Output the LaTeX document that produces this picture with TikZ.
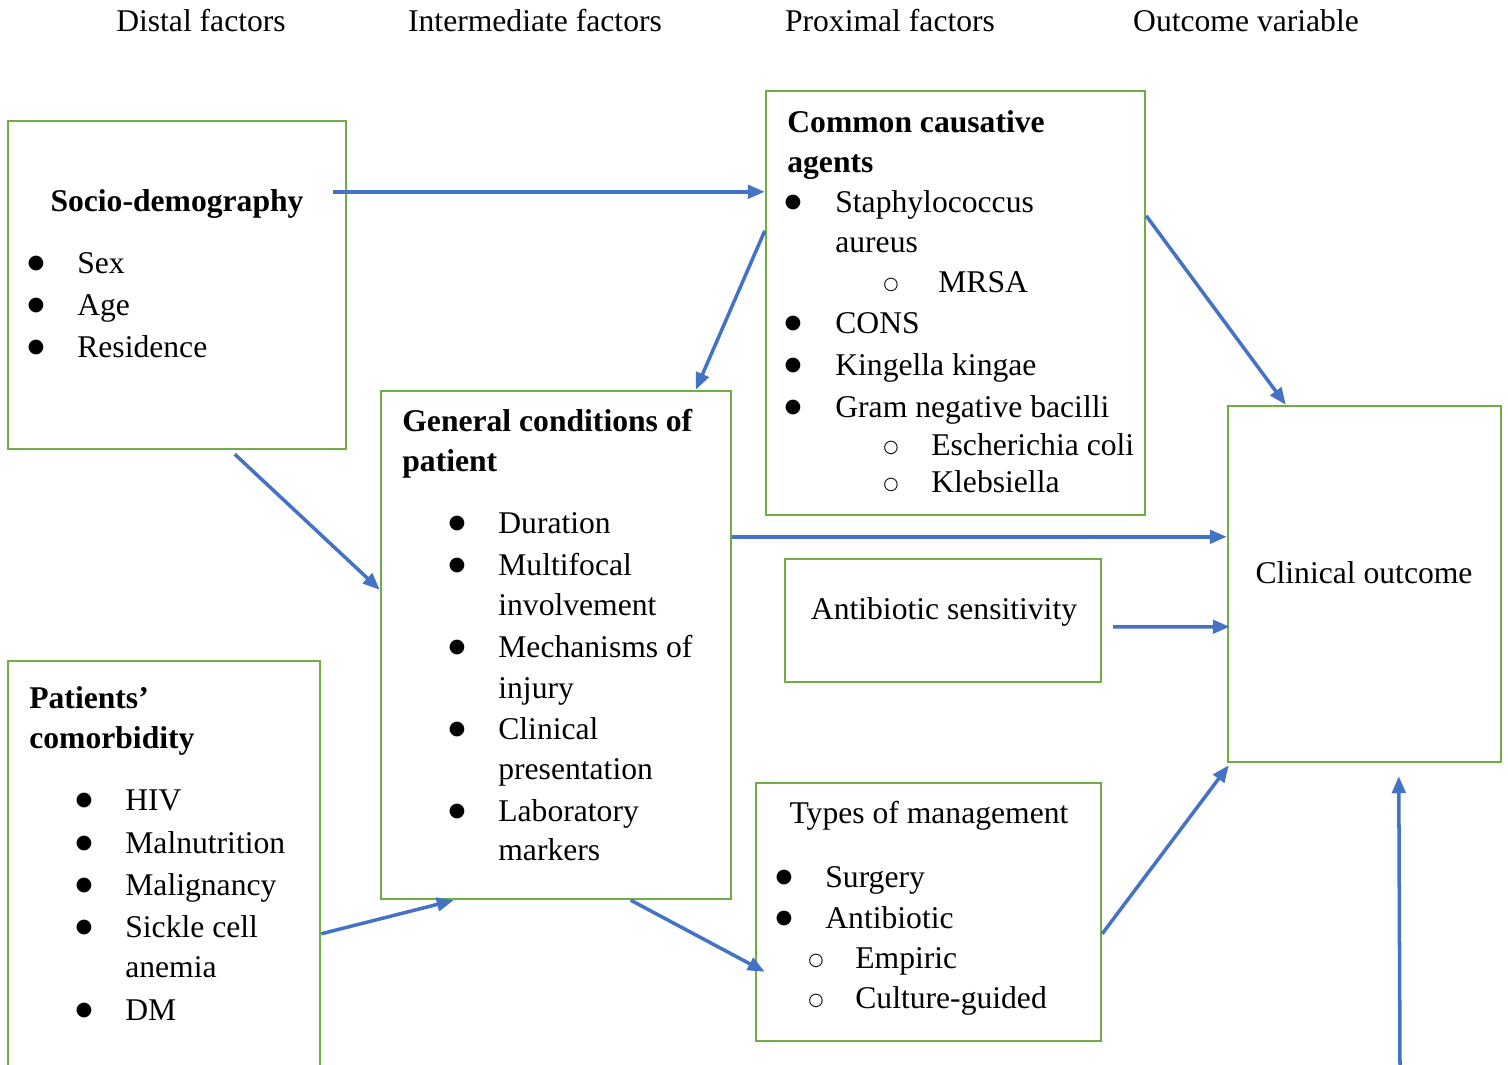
\documentclass[tikz,border=0pt]{standalone}
\usepackage{fontspec}
\setmainfont{Liberation Serif}
\newfontfamily\symfont{DejaVu Sans}
\usetikzlibrary{fit,arrows.meta}
\definecolor{boxgreen}{HTML}{70AD47}
\definecolor{arrowblue}{HTML}{4472C4}

\begin{document}
\begin{tikzpicture}[
    x=0.02cm, y=-0.02cm,
    font=\fontsize{18}{24}\selectfont,
    box/.style={draw=boxgreen, line width=1.4pt, inner sep=0pt},
    txt/.style={anchor=base west, inner sep=0pt},
    ttl/.style={txt, font=\fontsize{18}{24}\selectfont\bfseries},
    mid/.style={anchor=base, inner sep=0pt},
    bul/.style={anchor=center, inner sep=0pt, font=\symfont\fontsize{11}{11}\selectfont},
    sub/.style={anchor=center, inner sep=0pt, font=\symfont\fontsize{10}{10}\selectfont},
    arr/.style={-{Triangle[length=0.34cm,width=0.27cm]}, line width=2pt, arrowblue}
  ]
  \clip (0,0) rectangle (1508,1065);

  % column headings
  \node[mid] (h1) at (201,31) {Distal factors};
  \node[mid] (h2) at (535,31) {Intermediate factors};
  \node[mid] (h3) at (890,31) {Proximal factors};
  \node[mid] (h4) at (1246,31) {Outcome variable};

  % boxes
  \node[box, fit={(8,121) (346,449)}] (socio) {};
  \node[box, fit={(766,91) (1145,515)}] (agents) {};
  \node[box, fit={(381,391) (731,899)}] (general) {};
  \node[box, fit={(785,559) (1101,682)}] (sens) {};
  \node[box, fit={(1228,406) (1501,762)}] (outcome) {};
  \node[box, fit={(756,783) (1101,1041)}] (mgmt) {};
  \node[box, fit={(8,661) (320,1100)}] (comorb) {};

  % socio-demography
  \node[mid, font=\fontsize{18}{24}\selectfont\bfseries] (sdt) at (177,211) {Socio-demography};
  \foreach \t/\y [count=\i] in {Sex/273, Age/315, Residence/357} {
    \node[bul] (sdb\i) at (36,\y-10) {●};
    \node[txt] (sd\i) at (77,\y) {\t};
  }

  % causative agents
  \node[ttl] (ag1) at (787,132) {Common causative};
  \node[ttl] (ag2) at (787,172) {agents};
  \foreach \t/\y [count=\i] in {Staphylococcus/212, CONS/333, Kingella kingae/375, Gram negative bacilli/417} {
    \node[bul] (agb\i) at (793,\y-10) {●};
    \node[txt] (ag\i) at (835,\y) {\t};
  }
  \node[txt] (ag5) at (835,252) {aureus};
  \node[sub] (ago1) at (891,285) {○};
  \node[txt] (ag6) at (938,292) {MRSA};
  \node[sub] (ago2) at (891,448) {○};
  \node[txt] (ag7) at (931,455) {Escherichia coli};
  \node[sub] (ago3) at (891,485) {○};
  \node[txt] (ag8) at (931,492) {Klebsiella};

  % general conditions
  \node[ttl] (gc1) at (402,431) {General conditions of};
  \node[ttl] (gc2) at (402,471) {patient};
  \foreach \t/\y [count=\i] in {Duration/533, Multifocal/575, Mechanisms of/657, Clinical/739, Laboratory/821} {
    \node[bul] (gcb\i) at (457,\y-10) {●};
    \node[txt] (gc\i) at (498,\y) {\t};
  }
  \foreach \t/\y [count=\i] in {involvement/615, injury/698, presentation/779, markers/860} {
    \node[txt] (gcc\i) at (498,\y) {\t};
  }

  % sensitivity and outcome
  \node[mid] (senst) at (944,619) {Antibiotic sensitivity};
  \node[mid] (outt) at (1364,583) {Clinical outcome};

  % management
  \node[mid] (mgt) at (929,823) {Types of management};
  \foreach \t/\y [count=\i] in {Surgery/887, Antibiotic/928} {
    \node[bul] (mgb\i) at (784,\y-10) {●};
    \node[txt] (mg\i) at (825,\y) {\t};
  }
  \foreach \t/\y [count=\i] in {Empiric/968, Culture-guided/1008} {
    \node[sub] (mgo\i) at (816,\y-7) {○};
    \node[txt] (mgs\i) at (855,\y) {\t};
  }

  % comorbidity
  \node[ttl] (cm1) at (29,708) {Patients’};
  \node[ttl] (cm2) at (29,748) {comorbidity};
  \foreach \t/\y [count=\i] in {HIV/810, Malnutrition/853, Malignancy/895, Sickle cell/937, DM/1020} {
    \node[bul] (cmb\i) at (84,\y-10) {●};
    \node[txt] (cm\i) at (125,\y) {\t};
  }
  \node[txt] (cm6) at (125,977) {anemia};

  % arrows
  \draw[arr] ([shift={(-14,72)}]socio.north east) -- ([shift={(0,102)}]agents.north west);
  \draw[arr] ([shift={(0,141)}]agents.north west) -- ([shift={(316,0)}]general.north west);
  \draw[arr] ([shift={(228,4)}]socio.south west) -- ([shift={(0,200)}]general.north west);
  \draw[arr] ([shift={(0,126)}]agents.north east) -- ([shift={(59,0)}]outcome.north west);
  \draw[arr] ([shift={(0,147)}]general.north east) -- ([shift={(0,132)}]outcome.north west);
  \draw[arr] ([shift={(11,69)}]sens.north east) -- ([shift={(3,222)}]outcome.north west);
  \draw[arr] ([shift={(0,274)}]comorb.north east) -- ([shift={(74,0)}]general.south west);
  \draw[arr] ([shift={(251,0)}]general.south west) -- ([shift={(10,190)}]mgmt.north west);
  \draw[arr] ([shift={(0,152)}]mgmt.north east) -- ([shift={(2,2)}]outcome.south west);
  \coordinate (other) at (1400,1065);
  \draw[arr] (other) -- ([shift={(172,13)}]outcome.south west);
\end{tikzpicture}
\end{document}
